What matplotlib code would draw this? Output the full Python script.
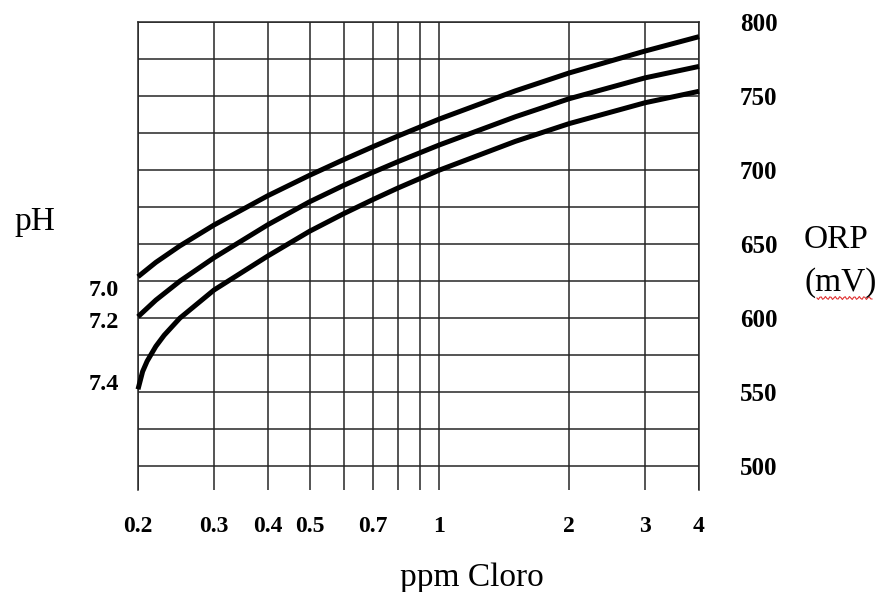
import numpy as np
import matplotlib
matplotlib.use("Agg")
from matplotlib import pyplot as plt
from matplotlib.ticker import FixedLocator, MultipleLocator, NullFormatter
from matplotlib.lines import Line2D

# ppm of chlorine (x) and ORP in mV (y) for each pH curve
ppm_70 = [0.2, 0.22, 0.25, 0.3, 0.4, 0.5, 0.6, 0.7, 0.8, 1, 1.5, 2, 3, 4]
orp_70 = [628, 637.7, 648.8, 662.9, 682.7, 696.5, 707.1, 715.7, 722.9, 734.5, 753.5, 765.6, 780.4, 790.1]

ppm_72 = [0.2, 0.22, 0.25, 0.3, 0.4, 0.5, 0.6, 0.7, 0.8, 1, 1.5, 2, 3, 4]
orp_72 = [601, 612.2, 625, 640.8, 663.1, 678.6, 689.7, 698.4, 705.6, 717, 736, 748.2, 762.3, 770]

ppm_74 = [0.2, 0.205, 0.21, 0.22, 0.23, 0.25, 0.3, 0.4, 0.5, 0.6, 0.7, 0.8, 1, 1.5, 2, 3, 4]
orp_74 = [552, 564, 571, 581, 588.5, 600, 619, 642, 658.7, 670.6, 680, 687.8, 700, 719.4, 731.4, 745.5, 753.2]

ph_labels = ["7.0", "7.2", "7.4"]
x_ticks = [0.2, 0.3, 0.4, 0.5, 0.7, 1, 2, 3, 4]
x_tick_labels = ["0.2", "0.3", "0.4", "0.5", "0.7", "1", "2", "3", "4"]
x_minor = [0.6, 0.8, 0.9]
y_ticks = [500, 550, 600, 650, 700, 750, 800]

W, H = 883, 592
serif = "Liberation Serif"
grid_c = "#262626"

fig = plt.figure(figsize=(W / 100, H / 100), dpi=100)
ax = fig.add_axes([138 / W, 1 - 490 / H, (699 - 138) / W, (490 - 22) / H])

ax.set_xscale("log")
ax.set_xlim(0.2, 4)
ax.set_ylim(484, 800)

ax.xaxis.set_major_locator(FixedLocator(x_ticks))
ax.set_xticklabels(x_tick_labels)
ax.xaxis.set_minor_locator(FixedLocator(x_minor))
ax.xaxis.set_minor_formatter(NullFormatter())

ax.yaxis.tick_right()
ax.yaxis.set_major_locator(FixedLocator(y_ticks))
ax.yaxis.set_minor_locator(MultipleLocator(25))
ax.yaxis.set_minor_formatter(NullFormatter())

ax.grid(True, which="both", color=grid_c, linewidth=1.1)
ax.set_axisbelow(True)

for side in ["left", "right", "top"]:
    ax.spines[side].set_color(grid_c)
    ax.spines[side].set_linewidth(1.1)
ax.spines["bottom"].set_visible(False)

ax.tick_params(axis="x", which="both", length=0, pad=19)
ax.tick_params(axis="y", which="both", length=0, pad=29.5)
for lab in ax.get_xticklabels():
    lab.set_fontfamily(serif)
    lab.set_fontweight("bold")
    lab.set_fontsize(17)
for lab in ax.get_yticklabels():
    lab.set_fontfamily(serif)
    lab.set_fontweight("bold")
    lab.set_fontsize(18)

for xs, ys in [(ppm_70, orp_70), (ppm_72, orp_72), (ppm_74, orp_74)]:
    ax.plot(xs, ys, color="black", linewidth=3.6, solid_capstyle="butt",
            solid_joinstyle="round", clip_on=False, zorder=3)


def ftext(x, y, s, **kw):
    fig.text(x / W, 1 - y / H, s, family=serif, **kw)


ftext(35, 222, "pH", fontsize=24, ha="center", va="center")
for lab, y in zip(ph_labels, [290, 323, 385]):
    ftext(119, y, lab, fontsize=17.5, fontweight="bold", ha="right", va="center")

ftext(804, 240, "ORP", fontsize=24, ha="left", va="center")
ftext(804, 283, "(mV)", fontsize=24, ha="left", va="center")
ftext(472, 578, "ppm Cloro", fontsize=24, ha="center", va="center")

# red spell-check squiggle under "mV"
sx = np.linspace(817, 872, 40)
sy = 298 + 1.5 * np.sin((sx - 817) * 1.3)
fig.add_artist(Line2D(sx / W, 1 - sy / H, color="#e03030", linewidth=0.8))

fig.savefig("out.png", dpi=100, facecolor="white")
